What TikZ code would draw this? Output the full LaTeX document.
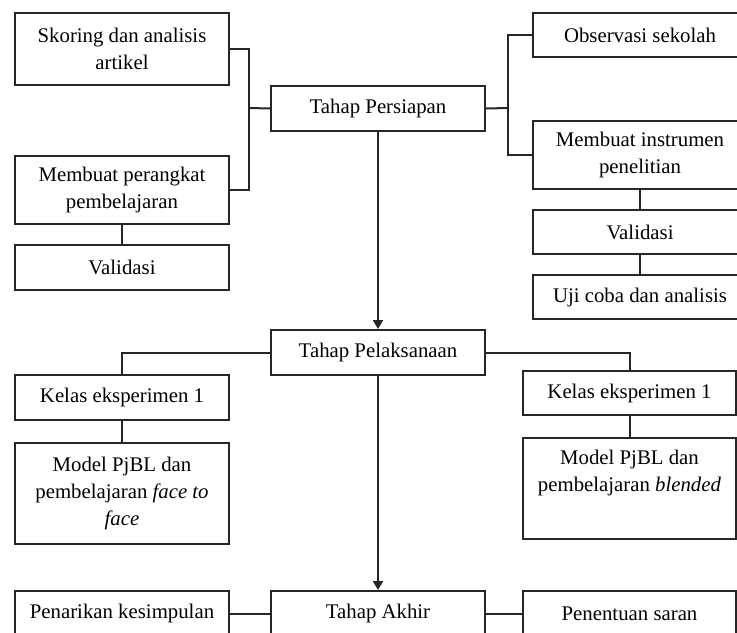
\documentclass[tikz,border=0pt]{standalone}
\usepackage{fontspec}
\setmainfont{Liberation Serif}
\usetikzlibrary{arrows.meta}

\begin{document}
\begin{tikzpicture}[x = 0.5pt, y = -0.5pt,
	box/.style = {draw = black!85, line width = 1pt, anchor = north west, inner sep = 0pt, align = center, minimum width = 107pt, minimum height = 22.5pt, font = \fontsize{10.4}{13.6}\selectfont, text = black},
	link/.style = {draw = black!85, line width = 1pt},
	flow/.style = {link, -{Triangle[width = 5pt, length = 4.5pt]}}]
	\useasboundingbox (0,0) rectangle (737,632);
	
	% tahap persiapan
	\node [box] (persiapan) at (270,85) {Tahap Persiapan};
	\node [box, minimum height = 36pt] (skor) at (14,12) {Skoring dan analisis\\artikel};
	\node [box, minimum height = 34pt] (perangkat) at (14,155) {Membuat perangkat\\pembelajaran};
	\node [box] (valkiri) at (14,244) {Validasi};
	\node [box, minimum height = 22pt] (observasi) at (532,12) {Observasi sekolah};
	\node [box, minimum height = 34pt] (instrumen) at (532,120) {Membuat instrumen\\penelitian};
	\node [box, minimum height = 22pt] (valkanan) at (532,209) {Validasi};
	\node [box, minimum height = 22pt] (ujicoba) at (532,274) {Uji coba dan analisis};
	
	\coordinate (jkiri) at (249,108);
	\coordinate (jkanan) at (508,108);
	
	\draw [link] (skor.east) -| (jkiri) |- (perangkat.east);
	\draw [link] (persiapan.west) -- (jkiri);
	\draw [link] (observasi.west) -| (jkanan) |- (instrumen.west);
	\draw [link] (persiapan.east) -- (jkanan);
	\draw [link] (perangkat.south) -- (valkiri.north);
	\draw [link] (instrumen.south) -- (valkanan.north);
	\draw [link] (valkanan.south) -- (ujicoba.north);
	
	% tahap pelaksanaan
	\node [box] (pelaksanaan) at (270,329) {Tahap Pelaksanaan};
	\node [box] (kelaskiri) at (14,374) {Kelas eksperimen 1};
	\node [box, minimum height = 50.5pt] (modelkiri) at (14,442) {Model PjBL dan\\pembelajaran \textit{face to}\\\textit{face}};
	\node [box, minimum width = 106.5pt, minimum height = 22pt] (kelaskanan) at (522,370) {Kelas eksperimen 1};
	\node [box, minimum width = 106.5pt, minimum height = 50.5pt] (modelkanan) at (522,437) {Model PjBL dan\\pembelajaran \textit{blended}\\\strut};
	
	\draw [link] (pelaksanaan.west) -| (kelaskiri.north);
	\draw [link] (pelaksanaan.east) -| (kelaskanan.north);
	\draw [link] (kelaskiri.south) -- (modelkiri.north);
	\draw [link] (kelaskanan.south) -- (modelkanan.north);
	
	% tahap akhir
	\node [box] (akhir) at (270,590) {Tahap Akhir};
	\node [box] (penarikan) at (14,590) {Penarikan kesimpulan};
	\node [box, minimum width = 106.5pt] (saran) at (522,590) {Penentuan saran};
	
	\draw [link] (penarikan.east) -- (akhir.west);
	\draw [link] (akhir.east) -- (saran.west);
	
	\draw [flow] (persiapan.south) -- (pelaksanaan.north);
	\draw [flow] (pelaksanaan.south) -- (akhir.north);
\end{tikzpicture}
\end{document}
